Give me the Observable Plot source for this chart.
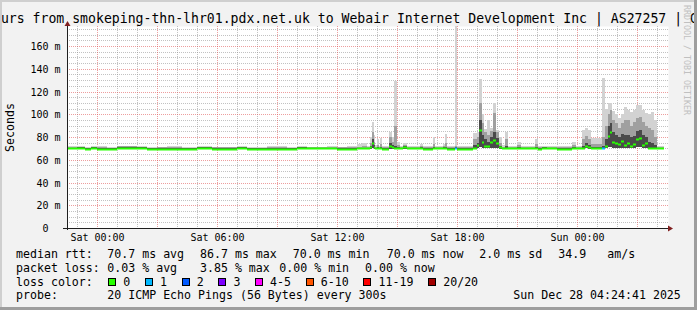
<!DOCTYPE html>
<html><head><meta charset="utf-8">
<script src="https://cdn.jsdelivr.net/npm/d3@7"></script>
<script src="https://cdn.jsdelivr.net/npm/@observablehq/plot@0.6"></script>
<style>
html,body{margin:0;padding:0;background:#f2f2f2;}
#chart svg{display:block;}
</style></head><body><div id="chart"></div>
<script>
// hours relative to Sat 00:00 (start of each sample interval)
const hours = [
 -1.5,-1.0,-0.6,-0.3,0.0,0.5,1.0,1.5,2.0,2.5,
 3.0,3.5,4.25,5.0,5.75,7.0,7.5,8.0,8.5,9.0,
 9.5,10.0,10.5,11.0,11.5,12.0,12.5,13.0,13.25,13.5,
 13.67,13.75,13.83,13.92,14.0,14.08,14.17,14.25,14.58,14.75,
 14.85,15.0,15.15,15.3,15.5,16.15,16.3,16.8,16.92,17.3,
 17.4,17.5,17.9,18.0,18.8,19.0,19.1,19.25,19.35,19.5,
 19.65,19.8,19.95,20.1,20.25,20.4,20.55,21.0,21.2,21.9,
 22.05,22.25,22.5,23.0,23.75,23.95,24.25,24.4,24.55,24.7,
 25.25,25.4,25.55,25.65,25.75,25.9,26.05,26.2,26.35,26.5,
 26.65,26.8,26.95,27.1,27.25,27.4,27.55,27.7,27.85,28.0];
const endHour = 28.35;
const lowMs = [
 69.3,69.6,69.0,69.4,69.3,69.3,69.6,69.6,69.5,69.3,
 69.3,69.3,69.2,69.6,69.3,69.5,69.2,69.3,69.3,69.2,
 69.0,69.4,69.4,69.4,69.5,69.3,69.3,69.4,69.4,69.4,
 69.6,70.0,69.6,69.4,69.4,69.4,69.4,69.3,69.8,69.6,
 69.6,69.4,69.4,69.8,69.4,69.4,69.3,69.4,69.4,69.4,
 69.4,69.3,69.4,69.3,69.6,70.0,71.0,70.5,70.0,70.0,
 70.5,70.5,70.0,69.6,69.4,69.5,69.4,69.4,69.4,69.4,
 69.3,69.6,69.4,69.3,69.4,69.4,69.6,70.0,69.6,69.4,
 69.6,70.0,71.0,71.0,70.5,70.5,70.5,70.5,70.5,70.5,
 70.0,70.5,71.0,71.0,70.5,70.5,70.0,69.8,69.6,69.4];
const medianMs = [
 70.0,70.6,69.4,70.3,69.8,69.8,70.6,70.6,70.4,69.8,
 69.8,69.8,69.6,70.5,69.8,70.3,69.6,69.8,69.8,69.6,
 69.4,70.2,69.9,70.0,70.1,69.8,69.8,70.0,70.0,70.0,
 71.0,74.5,71.0,70.0,70.0,70.0,70.0,69.8,72.5,71.0,
 70.5,70.0,70.2,71.0,70.0,70.0,69.8,70.0,70.0,70.0,
 70.0,69.8,70.0,69.8,70.5,73.0,86.0,76.0,72.5,72.0,
 76.0,77.0,74.5,71.0,70.0,70.3,70.0,70.0,70.0,70.0,
 69.8,70.5,70.2,69.8,70.0,70.0,70.5,72.5,71.0,70.0,
 70.0,72.0,81.0,84.7,76.0,74.5,73.6,76.5,73.0,74.5,
 72.0,74.0,78.0,78.8,73.0,74.5,70.5,70.0,70.0,70.0];
const coreMs = [
 70.5,71.2,70.0,70.8,70.4,70.3,71.2,71.2,70.9,70.3,
 70.3,70.4,70.2,71.0,70.3,70.8,70.2,70.3,70.4,70.2,
 70.0,70.8,70.4,70.5,70.7,70.3,70.4,70.6,70.7,70.5,
 72.0,78.0,73.0,70.6,71.0,70.5,71.0,70.4,75.0,73.0,
 72.0,71.0,70.7,71.8,70.5,70.8,70.4,71.0,70.5,70.8,
 71.0,70.4,71.0,70.4,73.0,75.0,95.0,82.0,78.0,76.0,
 80.0,84.0,79.0,72.0,70.6,72.0,70.5,71.0,70.5,71.0,
 70.4,71.0,70.7,70.4,71.0,70.5,72.0,75.0,73.0,71.0,
 72.0,78.0,90.0,92.0,84.0,82.0,80.0,83.0,82.0,82.0,
 80.0,81.0,85.0,86.0,82.0,80.0,76.0,75.0,73.0,70.5];
const midMs = [
 71.0,71.6,70.6,71.2,71.0,70.6,71.7,71.8,71.4,70.7,
 70.8,71.0,70.7,71.4,70.8,71.4,70.7,70.7,71.0,70.8,
 70.6,71.3,70.9,71.0,71.2,70.8,71.0,71.5,71.8,71.2,
 75.0,84.0,76.0,71.5,73.0,71.0,74.0,71.0,80.0,76.0,
 90.0,73.0,71.2,72.8,71.0,72.0,71.0,74.0,71.0,72.0,
 75.0,71.0,72.0,71.0,78.0,80.0,110.0,92.0,84.0,82.0,
 85.0,101.0,84.0,75.0,71.5,78.0,71.0,73.0,71.0,74.0,
 71.0,71.6,71.2,71.0,73.0,71.0,78.0,81.0,78.0,74.0,
 80.0,90.0,100.0,104.0,95.0,92.0,88.0,92.0,95.0,95.0,
 90.0,93.0,97.0,98.0,93.0,90.0,88.0,86.0,80.0,71.0];
const maxMs = [
 71.8,72.2,71.5,72.0,72.0,71.2,72.3,72.5,72.0,71.3,
 71.5,72.2,71.5,72.0,71.5,72.3,71.5,71.4,72.0,71.8,
 71.5,72.2,71.6,71.6,72.0,71.6,71.8,73.5,74.5,72.5,
 80.0,93.5,82.0,73.0,78.0,72.0,79.5,72.0,84.0,80.0,
 129.5,76.0,72.0,74.7,72.0,74.0,72.0,80.0,72.0,74.0,
 82.6,72.0,180.0,72.0,83.5,84.0,131.0,100.0,87.0,95.0,
 88.0,110.0,86.0,80.0,73.0,84.7,72.0,76.0,72.0,78.0,
 72.0,72.5,72.0,72.0,76.0,72.0,86.0,88.0,86.0,79.0,
 132.0,105.0,110.0,110.0,103.0,100.0,97.0,100.0,106.0,104.0,
 102.0,104.0,108.0,108.0,104.0,101.0,100.0,102.0,95.0,72.0];
const lossCount = [
 0,0,0,0,0,0,0,0,0,0, 0,0,0,0,0,0,0,0,0,0,
 0,0,0,0,0,0,0,0,0,0, 0,0,0,0,0,0,0,0,0,0,
 0,0,0,0,0,0,0,0,0,0, 0,0,1,0,0,0,0,0,0,0,
 0,0,0,0,0,0,0,0,0,0, 0,0,0,0,0,0,0,0,0,0,
 1,0,0,0,0,0,0,0,0,0, 0,0,0,0,0,0,0,0,0,0];

const xTickHours = [0, 6, 12, 18, 24];
const xTickLabels = ["Sat 00:00", "Sat 06:00", "Sat 12:00", "Sat 18:00", "Sun 00:00"];
const yTicks = [0, 20, 40, 60, 80, 100, 120, 140, 160];
const lossLabels = ["0", "1", "2", "3", "4-5", "6-10", "11-19", "20/20"];
const lossColors = ["#26ff00", "#00b8ff", "#0059ff", "#7e00ff", "#ff00ff", "#ff5500", "#ff0000", "#a10000"];
const titleText = "Last 30 Hours from smokeping-thn-lhr01.pdx.net.uk to Webair Internet Development Inc | AS27257 | G";
const legendRows = [
  [["median rtt:", 16], ["70.7 ms avg", 107.3], ["86.7 ms max", 200], ["70.0 ms min", 292.7], ["70.0 ms now", 386.7], ["2.0 ms sd", 479.3], ["34.9", 558.3], ["am/s", 607.3]],
  [["packet loss:", 16], ["0.03 % avg", 107.3], ["3.85 % max", 200], ["0.00 % min", 279.3], ["0.00 % now", 365]],
  [["loss color:", 16]],
  [["probe:", 16], ["20 ICMP Echo Pings (56 Bytes) every 300s", 107.3], ["Sun Dec 28 04:24:41 2025", 513.3]]
];
const legendBaselines = [258.3, 271.8, 285.6, 299.2];

const rows = hours.map((h, i) => ({
  x1: h, x2: i < hours.length - 1 ? hours[i + 1] : endHour,
  lo: lowMs[i], med: medianMs[i], core: coreMs[i], mid: midMs[i], max: maxMs[i],
  col: lossColors[lossCount[i]]
}));

const minorX = d3.range(-1, 29, 1).filter(h => h % 3 !== 0);
const majorX = d3.range(0, 29, 3);
const minorY = d3.range(5, 178, 5).filter(v => v % 20 !== 0);
const majorY = d3.range(20, 178, 20);
const gridMinor = "rgba(143,143,143,0.55)";
const gridMajor = "rgba(222,79,79,0.55)";

const plot = Plot.plot({
  width: 697, height: 310,
  marginLeft: 67, marginRight: 29, marginTop: 26, marginBottom: 82,
  style: {background: "#f2f2f2", fontFamily: "'DejaVu Sans Mono', monospace", fontSize: "10px", color: "#000"},
  x: {domain: [-1.5, 28.55], ticks: xTickHours, tickFormat: d => xTickLabels[xTickHours.indexOf(d)], tickSize: 0, tickPadding: 5.5, label: null, round: true},
  y: {domain: [0, 177.6], ticks: yTicks, tickFormat: d => d === 0 ? "0\u00a0\u00a0" : d + " m", tickSize: 0, tickPadding: 7, label: null, round: true},
  color: {type: "identity"},
  marks: [
    Plot.frame({fill: "white", stroke: "none"}),
    Plot.ruleX(minorX, {stroke: gridMinor, strokeDasharray: "1,1"}),
    Plot.ruleY(minorY, {stroke: gridMinor, strokeDasharray: "1,1"}),
    Plot.ruleX(majorX, {stroke: gridMajor, strokeDasharray: "1,1"}),
    Plot.ruleY(majorY, {stroke: gridMajor, strokeDasharray: "1,1"}),
    Plot.rect(rows, {x1: "x1", x2: "x2", y1: "lo", y2: "max", fill: "#d2d2d2", clip: true}),
    Plot.rect(rows, {x1: "x1", x2: "x2", y1: "lo", y2: "mid", fill: "#a0a0a0", clip: true}),
    Plot.rect(rows, {x1: "x1", x2: "x2", y1: "lo", y2: "core", fill: "#4a4a4a", clip: true}),
    Plot.ruleY(rows, {x1: "x1", x2: "x2", y: "med", stroke: "col", strokeWidth: 2}),
    Plot.ruleY([0], {x1: -1.7, x2: 28.6, stroke: "#1f1f1f"}),
    Plot.ruleX([-1.5], {y1: -2, y2: 178, stroke: "#1f1f1f"})
  ]
});
document.getElementById("chart").appendChild(plot);

const svg = d3.select(plot);
const sx = plot.scale("x"), sy = plot.scale("y");
const ax = sx.apply(-1.5) + 0.5, ay = sy.apply(0) + 0.5;
const topY = sy.apply(177.6);
const rightX = sx.apply(28.55);
// axis arrows
svg.append("path").attr("d", `M${ax - 3},${topY} L${ax},${topY - 5} L${ax + 3},${topY} Z`).attr("fill", "#801f1f");
svg.append("path").attr("d", `M${rightX},${ay - 3} L${rightX + 5},${ay} L${rightX},${ay + 3} Z`).attr("fill", "#801f1f");

const txt = (x, y, s, size) => svg.append("text").attr("x", x).attr("y", y)
  .attr("text-anchor", "start")
  .style("font-family", "'DejaVu Sans Mono', monospace").style("font-size", size)
  .style("white-space", "pre").attr("fill", "#000").text(s);

// title
txt(-78.3, 23, titleText, "13.17px");
// y label
txt(0, 0, "Seconds", "11.6px").attr("text-anchor", "middle").attr("transform", "translate(14,127.5) rotate(-90)");
// watermark
svg.append("text").attr("transform", "translate(683.5,5) rotate(90)").attr("text-anchor", "start")
  .style("font-family", "'DejaVu Sans Mono', monospace").style("font-size", "8.3px")
  .attr("fill", "#c0c0c0").text("RRDTOOL / TOBI OETIKER");

// legend rows
legendRows.forEach((row, r) => row.forEach(([s, x]) => txt(x, legendBaselines[r], s, "11.6px")));
// loss colour boxes
let bx = 108.3;
lossLabels.forEach((lab, i) => {
  svg.append("rect").attr("x", Math.round(bx) + 0.5).attr("y", 278.5).attr("width", 7).attr("height", 7)
    .attr("fill", lossColors[i]).attr("stroke", "#000");
  txt(bx + 15, legendBaselines[2], lab, "11.6px");
  bx += 15 + (lab.length + 2.1) * 7.0;
});

// frame shading
svg.append("rect").attr("x", 0).attr("y", 0).attr("width", 697).attr("height", 2).attr("fill", "#cfcfcf");
svg.append("rect").attr("x", 0).attr("y", 0).attr("width", 2).attr("height", 310).attr("fill", "#cfcfcf");
svg.append("rect").attr("x", 694).attr("y", 0).attr("width", 3).attr("height", 310).attr("fill", "#9e9e9e");
svg.append("rect").attr("x", 0).attr("y", 307).attr("width", 697).attr("height", 3).attr("fill", "#9e9e9e");
</script></body></html>
